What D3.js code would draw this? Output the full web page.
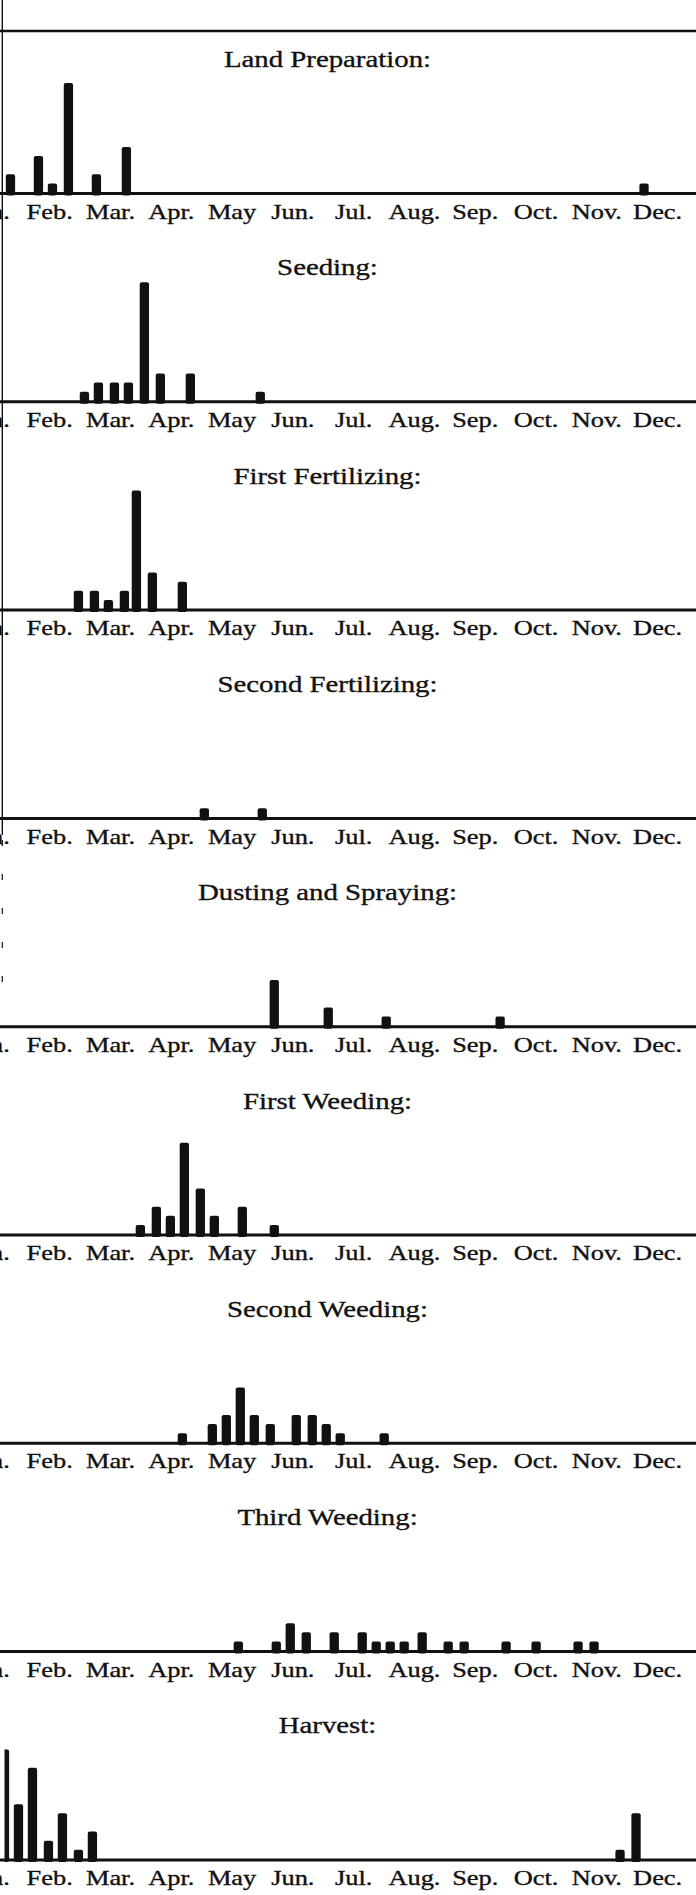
<!DOCTYPE html>
<html>
<head>
<meta charset="utf-8">
<script src="https://cdn.jsdelivr.net/npm/d3@7"></script>
<style>
  html, body { margin: 0; padding: 0; background: #fff; }
  svg { display: block; }
</style>
</head>
<body>
<script>
// Month tick labels along each time axis
const months = ["Jan.", "Feb.", "Mar.", "Apr.", "May", "Jun.", "Jul.", "Aug.", "Sep.", "Oct.", "Nov.", "Dec."];

// Farm operations, one panel each
const operations = ["Land Preparation:", "Seeding:", "First Fertilizing:", "Second Fertilizing:",
  "Dusting and Spraying:", "First Weeding:", "Second Weeding:", "Third Weeding:", "Harvest:"];

// For each operation: day of the year of each weekly bar, and the number of farmers in that week
const landPrepDays     = [26, 40, 47, 55, 69, 84, 343];
const landPrepCounts   = [2, 4, 1, 12, 2, 5, 1];

const seedingDays      = [63, 70, 78, 85, 93, 101, 116, 151];
const seedingCounts    = [1, 2, 2, 2, 13, 3, 3, 1];

const fert1Days        = [60, 68, 75, 83, 89, 97, 112];
const fert1Counts      = [2, 2, 1, 2, 13, 4, 3];

const fert2Days        = [123, 152];
const fert2Counts      = [1, 1];

const dustingDays      = [158, 185, 214, 271];
const dustingCounts    = [5, 2, 1, 1];

const weed1Days        = [91, 99, 106, 113, 121, 128, 142, 158];
const weed1Counts      = [1, 3, 2, 10, 5, 2, 3, 1];

const weed2Days        = [112, 127, 134, 141, 148, 156, 169, 177, 184, 191, 213];
const weed2Counts      = [1, 2, 3, 6, 3, 2, 3, 3, 2, 1, 1];

const weed3Days        = [140, 159, 166, 174, 188, 202, 209, 216, 223, 232, 245, 253, 274, 289, 310, 318];
const weed3Counts      = [1, 1, 3, 2, 2, 2, 1, 1, 1, 2, 1, 1, 1, 1, 1, 1];

const harvestDays      = [23, 30, 37, 45, 52, 60, 67, 331, 339];
const harvestCounts    = [12, 6, 10, 2, 5, 1, 3, 1, 5];

const seriesDays   = [landPrepDays, seedingDays, fert1Days, fert2Days, dustingDays, weed1Days, weed2Days, weed3Days, harvestDays];
const seriesCounts = [landPrepCounts, seedingCounts, fert1Counts, fert2Counts, dustingCounts, weed1Counts, weed2Counts, weed3Counts, harvestCounts];

// ---- layout ----
const W = 696, H = 1895;
const firstBase = 193.5, panelStep = 208.3;
const titleX = 327.5, titleRise = 126.5;
const ink = "#111";
const serif = "'Liberation Serif', 'Times New Roman', serif";
const barW = 9.3;
const unitPx = 9.12;   // pixels per farmer

const svg = d3.select("body").append("svg")
  .attr("width", W).attr("height", H)
  .attr("viewBox", `0 0 ${W} ${H}`);

svg.append("defs").append("clipPath").attr("id", "plotClip")
  .append("rect").attr("x", 4.5).attr("y", 0).attr("width", W).attr("height", H);

// Year runs from Jan 1 to Dec 31; the January column sits partly off the left edge
const x = d3.scaleLinear().domain([0, 365]).range([-41.5, 688]);
const xMonth = d3.scaleBand().domain(months).range(x.range());

// Frame: left rule and the closing rule of the section above
svg.append("line")
  .attr("x1", 2.3).attr("x2", 2.3).attr("y1", 0).attr("y2", 835)
  .attr("stroke", ink).attr("stroke-width", 1.4);
svg.append("line")
  .attr("x1", 2.3).attr("x2", 2.3).attr("y1", 840).attr("y2", 1005)
  .attr("stroke", ink).attr("stroke-width", 1.2).attr("stroke-dasharray", "6,28");
svg.append("line")
  .attr("x1", 0).attr("x2", W).attr("y1", 31).attr("y2", 31)
  .attr("stroke", ink).attr("stroke-width", 2.6);

operations.forEach((name, i) => {
  const base = firstBase + i * panelStep;
  const y = d3.scaleLinear().domain([0, 13]).range([base - 1, base - 1 - 13 * unitPx]);
  const g = svg.append("g").attr("class", "panel");

  g.append("text")
    .attr("transform", `translate(${titleX},${base - titleRise}) scale(1.2,1)`)
    .attr("text-anchor", "middle")
    .attr("font-family", serif)
    .attr("font-size", 24)
    .attr("fill", ink)
    .attr("stroke", ink).attr("stroke-width", 0.35)
    .text(name);

  const data = seriesDays[i].map((d, k) => ({ day: d, n: seriesCounts[i][k] }));
  g.append("g").attr("clip-path", "url(#plotClip)")
    .selectAll("rect").data(data).join("rect")
    .attr("x", d => x(d.day) - barW / 2)
    .attr("width", barW)
    .attr("y", d => y(d.n))
    .attr("height", d => base + 2 - y(d.n))
    .attr("rx", 2)
    .attr("fill", ink);

  // baseline
  g.append("line")
    .attr("x1", 0).attr("x2", W).attr("y1", base).attr("y2", base)
    .attr("stroke", ink).attr("stroke-width", 3);

  const axis = g.append("g")
    .attr("transform", `translate(0,${base})`)
    .call(d3.axisBottom(xMonth).tickSize(0).tickPadding(9.5));
  axis.select(".domain").remove();
  axis.selectAll("text")
    .attr("font-family", serif)
    .attr("font-size", 22)
    .attr("fill", ink)
    .attr("stroke", ink).attr("stroke-width", 0.35)
    .attr("transform", "scale(1.2,1)");
});
</script>
</body>
</html>
